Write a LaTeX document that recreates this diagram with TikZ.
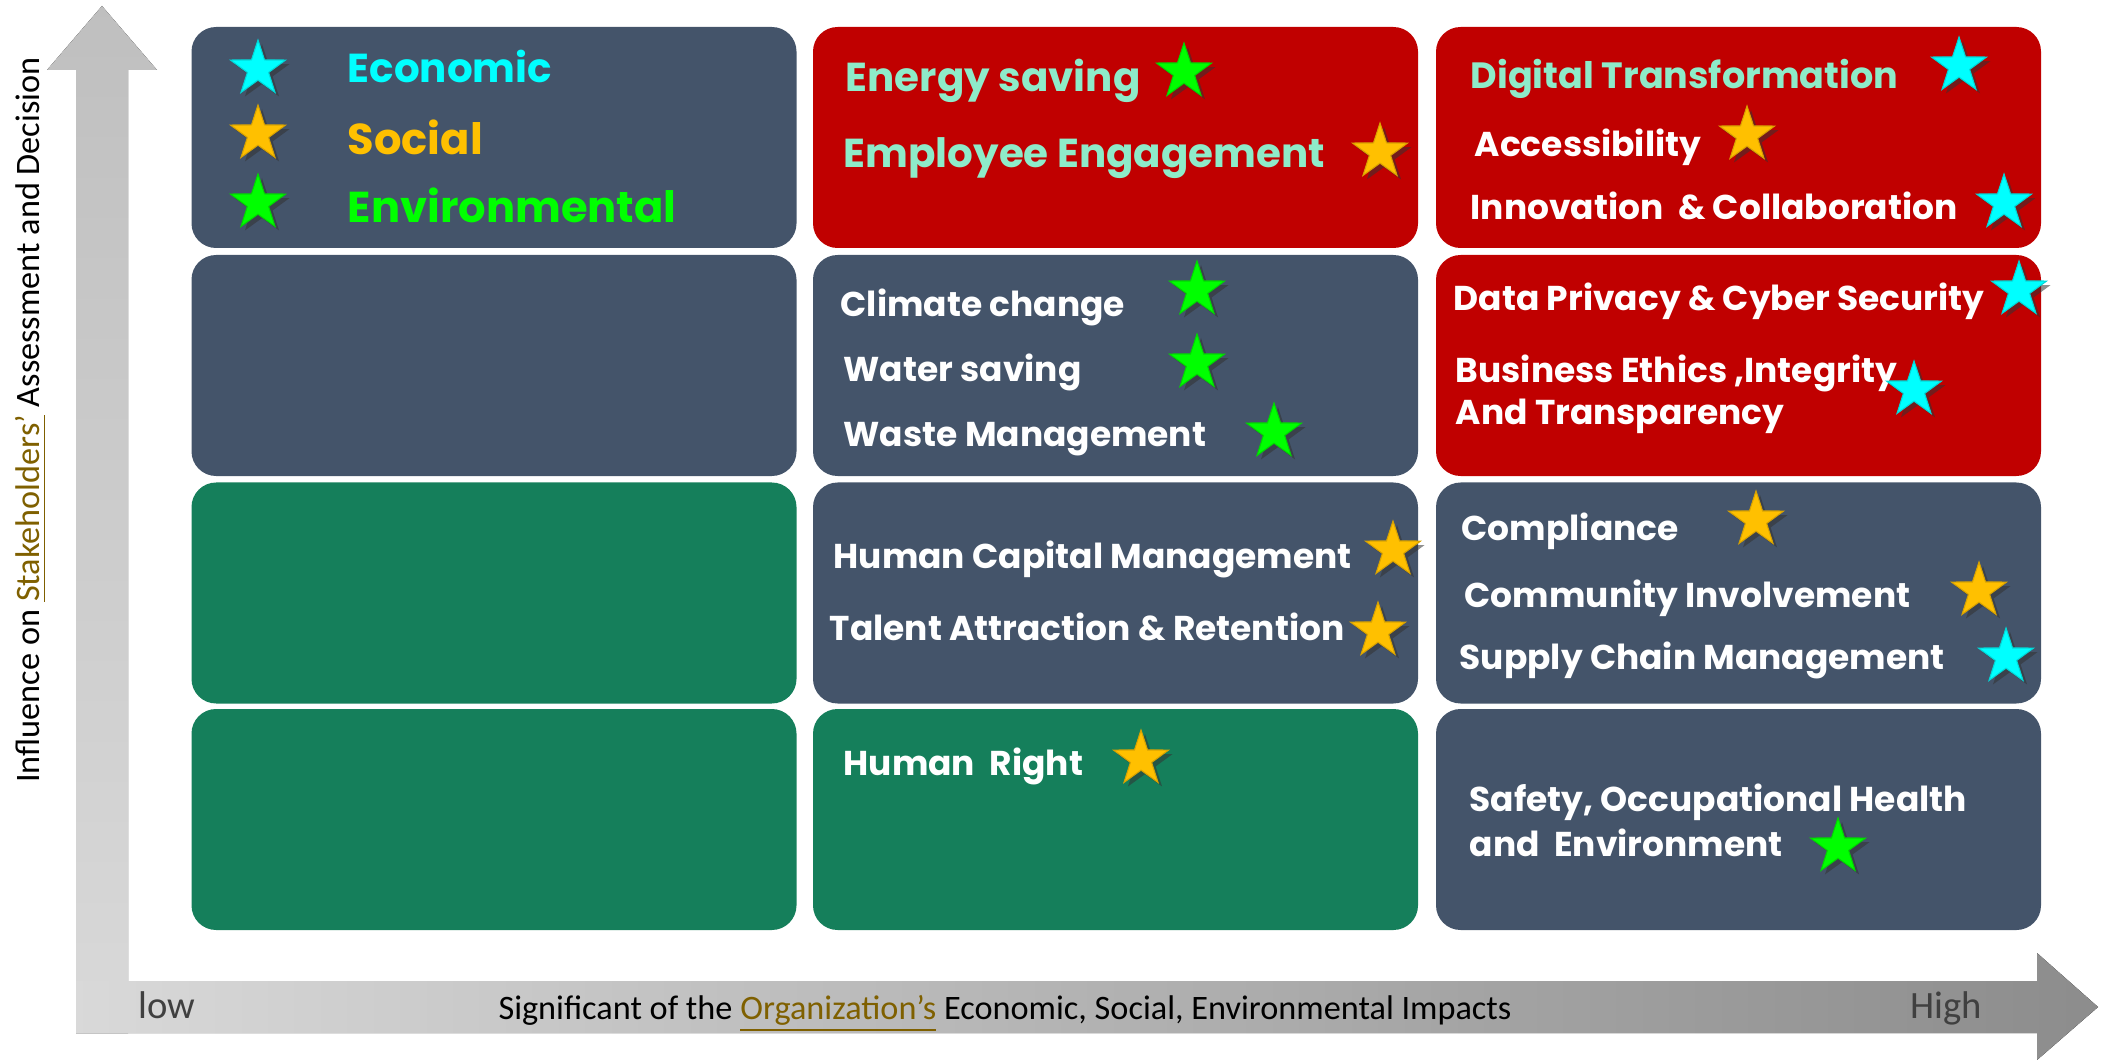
\documentclass[tikz,border=0pt]{standalone}
\usepackage{fontspec}
\setmainfont{Poppins}
\newfontfamily\axisfont{Carlito}
\usetikzlibrary{shapes.geometric,shadows}
\definecolor{slate}{HTML}{44546A}
\definecolor{deepred}{HTML}{C00000}
\definecolor{boxgreen}{HTML}{157F5B}
\definecolor{mint}{HTML}{8EEBC9}
\definecolor{ecocyan}{HTML}{00FFFF}
\definecolor{socgold}{HTML}{FFC000}
\definecolor{envgreen}{HTML}{00FF00}
\definecolor{axisgold}{HTML}{7F6000}
\tikzset{
  cell/.style={rounded corners=7pt,minimum width=6.05cm,minimum height=2.21cm,inner sep=0pt},
  sstar/.style={star,star points=5,star point ratio=2.6,minimum size=0.58cm,inner sep=0pt,
    fill=#1,draw=#1!85!black,line width=0.3pt,
    drop shadow={shadow xshift=0.04cm,shadow yshift=-0.04cm,opacity=0.55,fill=black!80}},
  topic/.style={anchor=base west,inner sep=0pt,text=white,font=\bfseries\fontsize{9.8}{12}\selectfont},
  hottopic/.style={topic,text=mint,font=\bfseries\fontsize{11.5}{14}\selectfont},
  legend/.style={anchor=base west,inner sep=0pt,text=#1,font=\bfseries\fontsize{12.3}{15}\selectfont},
  axislabel/.style={inner sep=0pt,font=\axisfont\fontsize{9.75}{11}\selectfont},
}
\begin{document}
\begin{tikzpicture}
  \useasboundingbox (0,0) rectangle (21.02,-10.60);
  % axes
  \fill[top color=gray!50,bottom color=gray!30] (0.76,-10.33) -- (0.76,-0.70) -- (0.47,-0.70) -- (1.02,-0.06)
    -- (1.57,-0.70) -- (1.28,-0.70) -- (1.28,-10.33) -- cycle;
  \fill[left color=gray!30,right color=gray!90] (0.76,-9.81) -- (20.37,-9.81) -- (20.37,-9.53) -- (20.98,-10.07)
    -- (20.37,-10.60) -- (20.37,-10.33) -- (0.76,-10.33) -- cycle;
  \node[axislabel,rotate=90] (ylab) at (0.31,-4.20) {Influence on \textcolor{axisgold}{\underline{Stakeholders’}} Assessment and Decision};
  \node[axislabel,anchor=base] (xlab) at (10.05,-10.19) {Significant of the \textcolor{axisgold}{\underline{Organization’s}} Economic, Social, Environmental Impacts};
  \node[axislabel,anchor=base west,text=black!75,font=\axisfont\fontsize{11}{13}\selectfont] (low) at (1.38,-10.18) {low};
  \node[axislabel,anchor=base west,text=black!75,font=\axisfont\fontsize{11}{13}\selectfont] (high) at (19.10,-10.18) {High};

  % matrix cells
  \node[cell,fill=slate] (legendbox) at (4.94,-1.375) {};
  \node[cell,fill=deepred] (energy) at (11.155,-1.375) {};
  \node[cell,fill=deepred] (digital) at (17.385,-1.375) {};
  \node[cell,fill=slate] (blanktwo) at (4.94,-3.655) {};
  \node[cell,fill=slate] (climate) at (11.155,-3.655) {};
  \node[cell,fill=deepred] (privacy) at (17.385,-3.655) {};
  \node[cell,fill=boxgreen] (blankthree) at (4.94,-5.93) {};
  \node[cell,fill=slate] (capital) at (11.155,-5.93) {};
  \node[cell,fill=slate] (compliance) at (17.385,-5.93) {};
  \node[cell,fill=boxgreen] (blankfour) at (4.94,-8.195) {};
  \node[cell,fill=boxgreen] (rights) at (11.155,-8.195) {};
  \node[cell,fill=slate] (safety) at (17.385,-8.195) {};

  % legend
  \node[sstar=ecocyan] (seco) at (2.58,-0.69) {};
  \node[legend=ecocyan,font=\bfseries\fontsize{11.5}{14}\selectfont] (eco) at (3.47,-0.83) {Economic};
  \node[sstar=socgold] (ssoc) at (2.58,-1.34) {};
  \node[legend=socgold] (soc) at (3.47,-1.55) {Social};
  \node[sstar=envgreen] (senv) at (2.58,-2.03) {};
  \node[legend=envgreen] (env) at (3.47,-2.23) {Environmental};

  % topics
  \node[hottopic] (tenergy) at (8.45,-0.92) {Energy saving};
  \node[sstar=envgreen] (senergy) at (11.84,-0.72) {};
  \node[hottopic] (temployee) at (8.43,-1.68) {Employee Engagement};
  \node[sstar=socgold] (semployee) at (13.80,-1.52) {};
  \node[hottopic,font=\bfseries\fontsize{10.4}{13}\selectfont] (tdigital) at (14.70,-0.89) {Digital Transformation};
  \node[sstar=ecocyan] (sdigital) at (19.59,-0.66) {};
  \node[topic] (taccess) at (14.74,-1.57) {Accessibility};
  \node[sstar=socgold] (saccess) at (17.47,-1.35) {};
  \node[topic] (tinnov) at (14.70,-2.20) {Innovation\ \ \& Collaboration};
  \node[sstar=ecocyan] (sinnov) at (20.04,-2.03) {};

  \node[topic] (tclimate) at (8.40,-3.17) {Climate change};
  \node[sstar=envgreen] (sclimate) at (11.97,-2.90) {};
  \node[topic] (twater) at (8.43,-3.82) {Water saving};
  \node[sstar=envgreen] (swater) at (11.97,-3.63) {};
  \node[topic] (twaste) at (8.43,-4.47) {Waste Management};
  \node[sstar=envgreen] (swaste) at (12.74,-4.32) {};
  \node[topic] (tprivacy) at (14.53,-3.11) {Data Privacy \& Cyber Security};
  \node[sstar=ecocyan] (sprivacy) at (20.19,-2.90) {};
  \node[topic] (tethics) at (14.55,-3.83) {Business Ethics ,Integrity};
  \node[topic] (ttransp) at (14.55,-4.24) {And Transparency};
  \node[sstar=ecocyan] (sethics) at (19.14,-3.90) {};

  \node[topic] (tcapital) at (8.33,-5.68) {Human Capital Management};
  \node[sstar=socgold] (scapital) at (13.93,-5.50) {};
  \node[topic] (ttalent) at (8.29,-6.40) {Talent Attraction \& Retention};
  \node[sstar=socgold] (stalent) at (13.78,-6.31) {};
  \node[topic] (tcompl) at (14.61,-5.40) {Compliance};
  \node[sstar=socgold] (scompl) at (17.56,-5.20) {};
  \node[topic] (tcommun) at (14.64,-6.07) {Community Involvement};
  \node[sstar=socgold] (scommun) at (19.79,-5.91) {};
  \node[topic] (tsupply) at (14.59,-6.69) {Supply Chain Management};
  \node[sstar=ecocyan] (ssupply) at (20.06,-6.57) {};

  \node[topic] (trights) at (8.43,-7.75) {Human\ \ Right};
  \node[sstar=socgold] (srights) at (11.41,-7.59) {};
  \node[topic] (tsafety) at (14.69,-8.11) {Safety, Occupational Health};
  \node[topic] (tenv) at (14.69,-8.56) {and\ \ Environment};
  \node[sstar=envgreen] (ssafety) at (18.38,-8.47) {};
\end{tikzpicture}
\end{document}
